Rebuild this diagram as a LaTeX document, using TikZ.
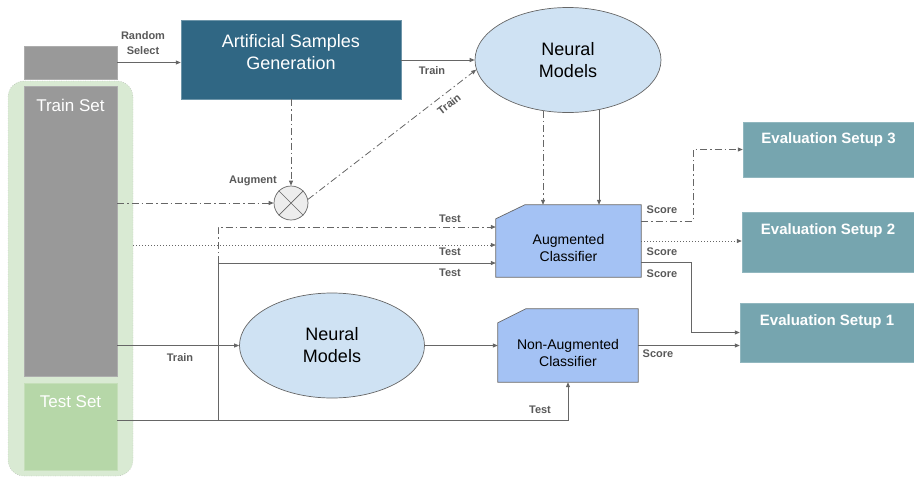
\documentclass[tikz,border=0pt]{standalone}
\usepackage{fontspec}
\setmainfont{Liberation Sans}
\usetikzlibrary{arrows.meta,shapes.geometric,calc}
\definecolor{asgc}{HTML}{306784}
\definecolor{nmc}{HTML}{CFE2F3}
\definecolor{clc}{HTML}{A4C2F4}
\definecolor{evc}{HTML}{76A5AF}
\definecolor{grc}{HTML}{999999}
\definecolor{bgc}{HTML}{D9EAD3}
\definecolor{tsc}{HTML}{B6D7A8}
\definecolor{lnc}{HTML}{666666}
\definecolor{lbc}{HTML}{595959}
\begin{document}
\begin{tikzpicture}[x=1pt,y=-1pt,
  ln/.style={draw=lnc,line width=0.8pt},
  arr/.style={ln,-{Triangle[length=5pt,width=4pt]}},
  dd/.style={dash pattern=on 7pt off 3pt on 1.5pt off 3pt},
  dt/.style={dash pattern=on 1pt off 2pt},
  bgbox/.style={draw=grc,dotted,fill=bgc,rounded corners=16pt,inner sep=0pt},
  graybox/.style={fill=grc,draw=grc!80!white,inner sep=0pt,minimum width=93pt},
  testbox/.style={fill=tsc,draw=tsc!80!white,inner sep=0pt,minimum width=93pt},
  asgbox/.style={fill=asgc,draw=asgc!70!white,inner sep=0pt},
  nm/.style={ellipse,fill=nmc,draw=lnc,line width=0.7pt,inner sep=0pt,align=center,font=\fontsize{18}{22}\selectfont},
  clsbox/.style={inner sep=0pt},
  clsshape/.style={fill=clc,draw=lnc,line width=0.7pt},
  clstext/.style={align=center,font=\fontsize{14}{17}\selectfont},
  evbox/.style={fill=evc,draw=evc!80!white,inner sep=0pt},
  evtext/.style={text=white,font=\fontsize{15}{18}\selectfont\bfseries},
  settext/.style={text=white,font=\fontsize{17}{20}\selectfont},
  lbl/.style={text=lbc,font=\fontsize{11}{15}\selectfont\bfseries,align=center,inner sep=0pt},
  augc/.style={circle,fill=black!7,draw=lnc,line width=0.7pt,minimum size=34pt,inner sep=0pt}
]
\useasboundingbox (0,0) rectangle (914,477);

% left column
\node[bgbox,minimum width=125pt,minimum height=395pt] (bg) at (70.5,278.5) {};
\node[graybox,minimum height=33pt] (rs) at (70.5,62.5) {};
\node[graybox,minimum height=290pt] (ts) at (70.5,231) {};
\node[testbox,minimum height=87pt] (tst) at (70.5,426.5) {};
\node[settext] (tsl) at (70.5,105) {Train Set};
\node[settext] (tstl) at (70.5,402) {Test Set};

% artificial samples generation
\node[asgbox,minimum width=220pt,minimum height=79pt] (asg) at (291,59.5) {};
\node[text=white,align=center,font=\fontsize{18}{22}\selectfont] (asgl) at (291,52) {Artificial Samples\\Generation};

% neural models
\node[nm,minimum width=186pt,minimum height=105pt] (nm1) at (568,60) {Neural\\Models};
\node[nm,minimum width=185pt,minimum height=105pt] (nm2) at (332,345.5) {Neural\\Models};

% augment circle
\node[augc] (aug) at (291,203) {};
\draw[lnc,line width=0.7pt] (aug.45) -- (aug.225) (aug.135) -- (aug.315);

% augmented classifier
\node[clsbox,minimum width=145pt,minimum height=72pt] (ac) at (568.5,241) {};
\path[clsshape] (ac.south west) -- ([yshift=-14pt]ac.north west) -- ([xshift=29pt]ac.north west) -- (ac.north east) -- (ac.south east) -- cycle;
\node[clstext] (acl) at (568.5,248) {Augmented\\Classifier};

% non-augmented classifier
\node[clsbox,minimum width=140pt,minimum height=73pt] (nac) at (568,345.5) {};
\path[clsshape] (nac.south west) -- ([yshift=-14pt]nac.north west) -- ([xshift=28pt]nac.north west) -- (nac.north east) -- (nac.south east) -- cycle;
\node[clstext] (nacl) at (568,353) {Non-Augmented\\Classifier};

% evaluation setups
\node[evbox,minimum width=171pt,minimum height=55pt] (ev3) at (828.5,149.5) {};
\node[evtext] (ev3l) at (828.5,140) {Evaluation Setup 3};
\node[evbox,minimum width=172pt,minimum height=60pt] (ev2) at (828,242) {};
\node[evtext] (ev2l) at (828,231) {Evaluation Setup 2};
\node[evbox,minimum width=174pt,minimum height=59pt] (ev1) at (827,332.5) {};
\node[evtext] (ev1l) at (827,322) {Evaluation Setup 1};

% coordinates for routing
\coordinate (tl) at (218,420);
\coordinate (vx) at (218,263);
\coordinate (s3) at (693,0);
\coordinate (s1) at (691,0);
\coordinate (dA) at ([yshift=-4pt]ac.west);

% connectors
\draw[arr] (rs.east) -- (rs.east -| asg.west);
\draw[arr] (asg.east |- nm1.west) -- (nm1.west);
\draw[arr,dd] (asg.south -| aug.north) -- (aug.north);
\draw[arr,dd] (ts.east |- aug.west) -- (aug.west);
\draw[arr,dd] (aug.12) -- (nm1.186);
\draw[arr,dd] ([xshift=-25pt,yshift=2pt]nm1.south) -- ([xshift=-25pt]nm1.south |- ac.north);
\draw[arr] ([xshift=31pt,yshift=3pt]nm1.south) -- ([xshift=31pt]nm1.south |- ac.north);

\draw[arr] ([yshift=6.5pt]tst.east) -| (nac.south);
\draw[arr] (tl) |- ([yshift=-22pt]ac.west);
\draw[arr,dd] (vx) |- ([yshift=14pt]ac.west);
\draw[arr,dt] (bg.east |- dA) -- (dA);

\draw[arr] (ts.east |- nm2.west) -- (nm2.west);
\draw[arr] (nm2.east) -- (nac.west);
\draw[arr] (nac.east) -- (nac.east -| ev1.west);

\draw[arr,dd] ([yshift=20pt]ac.east) -| (s3 |- ev3.west) -- (ev3.west);
\draw[arr,dt] (ac.east) -- (ac.east -| ev2.west);
\draw[arr] ([yshift=-21pt]ac.east) -| (s1 |- ev1.west) -- (ev1.west);

% labels
\node[lbl] (l1) at (143,43) {Random\\Select};
\node[lbl] (l2) at (432,71) {Train};
\node[lbl,rotate=38] (l3) at (449,104) {Train};
\node[lbl] (l4) at (253,181) {Augment};
\node[lbl] (l5) at (450,219) {Test};
\node[lbl] (l6) at (450,252) {Test};
\node[lbl] (l7) at (450,273) {Test};
\node[lbl] (l8) at (180,358) {Train};
\node[lbl] (l9) at (540,410) {Test};
\node[lbl] (l10) at (662,210) {Score};
\node[lbl] (l11) at (662,252) {Score};
\node[lbl] (l12) at (662,274) {Score};
\node[lbl] (l13) at (658,354) {Score};
\end{tikzpicture}
\end{document}
